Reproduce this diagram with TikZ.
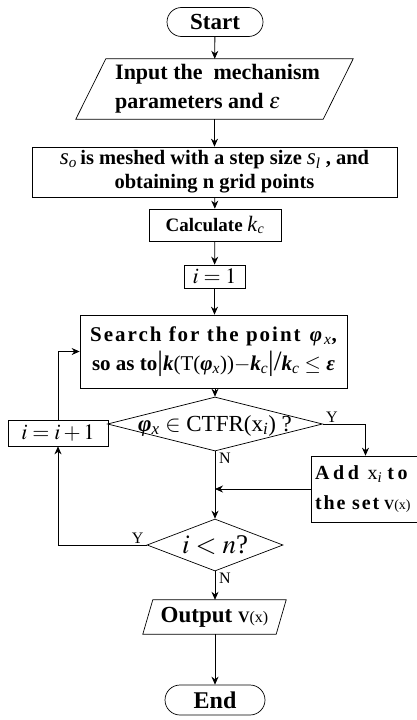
\documentclass[tikz,border=0pt]{standalone}
\usepackage{mathptmx}
\usepackage[no-math]{fontspec}
\setmainfont{Liberation Serif}
\usetikzlibrary{shapes.geometric,arrows.meta}
\newcommand{\bi}[1]{\textbf{\textit{#1}}}
\newcommand{\nit}[1]{\textnormal{\textit{#1}}}
\begin{document}
\begin{tikzpicture}[x=1pt,y=-1pt,
  base/.style={font=\fontsize{18}{22}\selectfont\bfseries, align=center, inner sep=0pt},
  box/.style={base, draw, rectangle, line width=0.7pt},
  term/.style={base, draw, minimum height=29pt, line width=0.7pt},
  dia/.style={diamond, draw, inner sep=0pt, line width=0.7pt},
  arr/.style={-{Stealth[length=8pt,width=7pt]}, line width=0.8pt},
  lab/.style={font=\fontsize{16}{16}\selectfont, inner sep=1pt},
  para/.style={line width=0.7pt}
]
\useasboundingbox (0,0) rectangle (416,720);

\node[term, rounded corners=14.5pt, minimum width=96pt, font=\fontsize{23}{23}\selectfont\bfseries] (start) at (215,22) {Start};

\node[base, minimum width=247pt, minimum height=60pt] (in) at (214.5,89) {};
\draw[para] ([xshift=15pt]in.north west) -- ([xshift=15pt]in.north east) -- ([xshift=-15pt]in.south east) -- ([xshift=-15pt]in.south west) -- cycle;
\node[base, align=left, anchor=west, font=\fontsize{22}{29}\selectfont\bfseries] (intext) at (115,89) {Input the\ \ mechanism\\parameters and \textnormal{$\varepsilon$}};

\node[box, minimum width=365pt, minimum height=50pt, font=\fontsize{20.5}{24}\selectfont\bfseries] (mesh) at (214.5,172)
  {{\fontsize{23}{23}\selectfont\nit{s}}\textsubscript{\nit{o}}\,is meshed with a step size {\fontsize{23}{23}\selectfont\nit{s}}\textsubscript{\nit{l}} , and\\obtaining n grid points};

\node[box, minimum width=132pt, minimum height=32pt, font=\fontsize{19}{22}\selectfont\bfseries] (calc) at (215,225) {Calculate {\fontsize{22}{22}\selectfont\nit{k}}\textsubscript{\nit{c}}};

\node[box, minimum width=61pt, minimum height=23pt, font=\fontsize{22}{22}\selectfont] (i1) at (214.5,276.5) {$i=1$};

\node[box, minimum width=267pt, minimum height=73pt, font=\fontsize{21}{29}\selectfont\bfseries] (search) at (213.5,351.5)
  {{\addfontfeature{LetterSpace=9.5}Search for the point \bi{φ}\textsubscript{\nit{x}},}\\
   so as to{\fontsize{28}{22}\selectfont\textnormal{|}}\bi{k}\textnormal{(T(}\bi{φ}\textsubscript{\nit{x}}\textnormal{))}$-$\bi{k}\textsubscript{\nit{c}}{\fontsize{28}{22}\selectfont\textnormal{|/}}\bi{k}\textsubscript{\nit{c}} \textnormal{$\leq$} \bi{ε}};

\node[dia, minimum width=215pt, minimum height=54pt] (d1) at (215,424) {};
\node[font=\fontsize{23}{23}\selectfont, inner sep=0pt] at ([yshift=-2pt]d1) {\bi{φ}\textsubscript{\nit{x}} $\in$ CTFR(x\textsubscript{\nit{i}}) ?};

\node[box, minimum width=100pt, minimum height=26pt, font=\fontsize{22}{22}\selectfont] (ii) at (58,433) {$i=i+1$};

\node[box, minimum width=109pt, minimum height=66pt] (add) at (365.5,489) {};
\node[base, align=left, anchor=west, font=\fontsize{20}{30}\selectfont\bfseries] (addtext) at (315,489)
  {{\addfontfeature{LetterSpace=18}Add} \textnormal{x\textsubscript{\textit{i}}} {\addfontfeature{LetterSpace=18}to}\\
   {\addfontfeature{LetterSpace=9}the set} {\fontsize{14}{14}\selectfont V\textnormal{(x)}}};

\coordinate (j) at (215,489);

\node[dia, minimum width=136pt, minimum height=52pt] (d2) at (215,545) {};
\node[font=\fontsize{27}{27}\selectfont, inner sep=0pt] at (d2) {$i<n$?};

\node[base, minimum width=133pt, minimum height=34pt] (out) at (214.5,617) {};
\draw[para] ([xshift=5pt]out.north west) -- ([xshift=5pt]out.north east) -- ([xshift=-5pt]out.south east) -- ([xshift=-5pt]out.south west) -- cycle;
\node[base, font=\fontsize{23}{23}\selectfont\bfseries] at (out) {Output {\fontsize{16}{16}\selectfont V\textnormal{(x)}}};

\node[term, minimum width=100pt, minimum height=30pt, rounded corners=15pt, font=\fontsize{24}{24}\selectfont\bfseries] (end) at (215,700) {End};

\draw[arr] (start) -- (in);
\draw[arr] (in) -- (mesh);
\draw[arr] (mesh) -- (calc);
\draw[arr] (calc) -- (i1);
\draw[arr] (i1) -- (search.north -| i1);
\draw[arr] (search.south -| d1) -- (d1.north);
\draw[arr] (d1.east) -| (add.north);
\draw[arr] (add.west) -- (j);
\draw[arr] (d1.south) -- (d2.north);
\draw[arr] (d2.west) -| (ii.south);
\draw[arr] (ii.north) |- (search.west);
\draw[arr] (d2.south) -- (out.north -| d2);
\draw[arr] (out.south -| end) -- (end.north);

\node[lab, anchor=south west] at ([xshift=2pt]d1.east) {Y};
\node[lab, anchor=north west] at ([xshift=3pt]d1.south) {N};
\node[lab, anchor=south east] at ([xshift=-2pt]d2.west) {Y};
\node[lab, anchor=north west] at ([xshift=3pt]d2.south) {N};
\end{tikzpicture}
\end{document}
